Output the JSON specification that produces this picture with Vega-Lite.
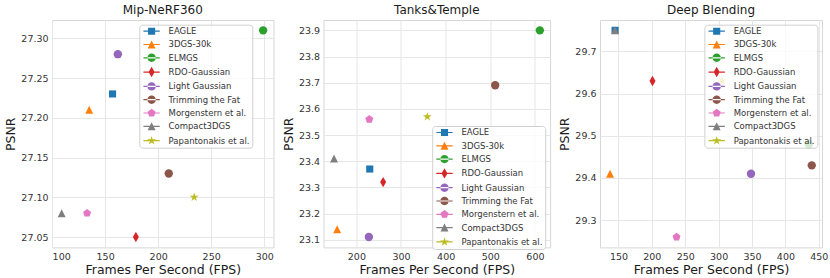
{
  "$schema": "https://vega.github.io/schema/vega-lite/v6.json",
  "padding": {"left": 4, "top": 3, "right": 5, "bottom": 3},
  "background": "white",
  "config": {
    "font": "DejaVu Sans",
    "view": {"stroke": "#d6d6d6", "strokeWidth": 1},
    "point": {"filled": true, "opacity": 1, "size": 70},
    "axis": {
      "labelFont": "DejaVu Sans", "labelFontSize": 9.5, "labelColor": "#333333",
      "titleFont": "DejaVu Sans", "titleFontSize": 12.5, "titleFontWeight": "normal", "titleColor": "#1a1a1a",
      "ticks": false, "domain": false, "gridColor": "#e6e6e6", "gridWidth": 1, "labelPadding": 4, "titlePadding": 3
    },
    "title": {"font": "DejaVu Sans", "fontSize": 12, "fontWeight": "normal", "color": "#1a1a1a", "offset": 3},
    "legend": {
      "labelFont": "DejaVu Sans", "labelFontSize": 8.5, "labelColor": "#333333",
      "fillColor": "rgba(255,255,255,0.8)", "strokeColor": "#d0d0d0", "cornerRadius": 3,
      "padding": 2, "rowPadding": 4.3, "symbolSize": 70, "symbolOffset": 5.8, "labelOffset": 12.5, "symbolStrokeWidth": 0, "symbolOpacity": 1, "title": null
    }
  },
  "data": {"values": [
    {"panel": "Mip-NeRF360", "method": "EAGLE", "fps": 157, "psnr": 27.23},
    {"panel": "Mip-NeRF360", "method": "3DGS-30k", "fps": 135, "psnr": 27.21},
    {"panel": "Mip-NeRF360", "method": "ELMGS", "fps": 299, "psnr": 27.31},
    {"panel": "Mip-NeRF360", "method": "RDO-Gaussian", "fps": 179, "psnr": 27.05},
    {"panel": "Mip-NeRF360", "method": "Light Gaussian", "fps": 162, "psnr": 27.28},
    {"panel": "Mip-NeRF360", "method": "Trimming the Fat", "fps": 210, "psnr": 27.13},
    {"panel": "Mip-NeRF360", "method": "Morgenstern et al.", "fps": 133, "psnr": 27.08},
    {"panel": "Mip-NeRF360", "method": "Compact3DGS", "fps": 109, "psnr": 27.08},
    {"panel": "Mip-NeRF360", "method": "Papantonakis et al.", "fps": 234, "psnr": 27.10},
    {"panel": "Tanks&Temple", "method": "EAGLE", "fps": 230, "psnr": 23.37},
    {"panel": "Tanks&Temple", "method": "3DGS-30k", "fps": 157, "psnr": 23.14},
    {"panel": "Tanks&Temple", "method": "ELMGS", "fps": 611, "psnr": 23.90},
    {"panel": "Tanks&Temple", "method": "RDO-Gaussian", "fps": 260, "psnr": 23.32},
    {"panel": "Tanks&Temple", "method": "Light Gaussian", "fps": 228, "psnr": 23.11},
    {"panel": "Tanks&Temple", "method": "Trimming the Fat", "fps": 511, "psnr": 23.69},
    {"panel": "Tanks&Temple", "method": "Morgenstern et al.", "fps": 229, "psnr": 23.56},
    {"panel": "Tanks&Temple", "method": "Compact3DGS", "fps": 150, "psnr": 23.41},
    {"panel": "Tanks&Temple", "method": "Papantonakis et al.", "fps": 359, "psnr": 23.57},
    {"panel": "Deep Blending", "method": "EAGLE", "fps": 145, "psnr": 29.75},
    {"panel": "Deep Blending", "method": "3DGS-30k", "fps": 137.5, "psnr": 29.41},
    {"panel": "Deep Blending", "method": "ELMGS", "fps": 435, "psnr": 29.48},
    {"panel": "Deep Blending", "method": "RDO-Gaussian", "fps": 201, "psnr": 29.63},
    {"panel": "Deep Blending", "method": "Light Gaussian", "fps": 348.5, "psnr": 29.41},
    {"panel": "Deep Blending", "method": "Trimming the Fat", "fps": 439.5, "psnr": 29.43},
    {"panel": "Deep Blending", "method": "Morgenstern et al.", "fps": 237, "psnr": 29.26},
    {"panel": "Deep Blending", "method": "Compact3DGS", "fps": 145, "psnr": 29.75},
    {"panel": "Deep Blending", "method": "Papantonakis et al.", "fps": 305, "psnr": 29.63}
  ]},
  "bounds": "flush",
  "spacing": 49.5,
  "resolve": {"legend": {"color": "independent", "shape": "independent"}, "scale": {"x": "independent", "y": "independent"}},
  "hconcat": [
    {
      "title": "Mip-NeRF360",
      "width": 221.5, "height": 227.4,
      "transform": [{"filter": "datum.panel === 'Mip-NeRF360'"}],
      "encoding": {
        "x": {"field": "fps", "type": "quantitative", "title": "Frames Per Second (FPS)", "scale": {"domain": [99.9, 308.8], "nice": false, "zero": false}, "axis": {"values": [100, 150, 200, 250, 300]}},
        "y": {"field": "psnr", "type": "quantitative", "title": "PSNR", "scale": {"domain": [27.037, 27.323], "nice": false, "zero": false}, "axis": {"values": [27.05, 27.10, 27.15, 27.20, 27.25, 27.30], "format": ".2f"}},
        "color": {"field": "method", "type": "nominal", "scale": {"domain": ["EAGLE", "3DGS-30k", "ELMGS", "RDO-Gaussian", "Light Gaussian", "Trimming the Fat", "Morgenstern et al.", "Compact3DGS", "Papantonakis et al."], "range": ["#1f77b4", "#ff7f0e", "#2ca02c", "#d62728", "#9467bd", "#8c564b", "#e377c2", "#7f7f7f", "#bcbd22"]}, "legend": {"orient": "none", "legendX": 87.3, "legendY": 4.7}}
      },
      "layer": [
        {"transform": [{"filter": "false"}], "mark": {"type": "point"},
         "encoding": {"shape": {"field": "method", "type": "nominal", "legend": {"orient": "none", "legendX": 87.3, "legendY": 4.7}, "scale": {"domain": ["EAGLE", "3DGS-30k", "ELMGS", "RDO-Gaussian", "Light Gaussian", "Trimming the Fat", "Morgenstern et al.", "Compact3DGS", "Papantonakis et al."], "range": [
           "M-1.95,-0.14L1.95,-0.14L1.95,0.14L-1.95,0.14ZM-0.85,-0.85L0.85,-0.85L0.85,0.85L-0.85,0.85Z",
           "M-1.95,-0.14L1.95,-0.14L1.95,0.14L-1.95,0.14ZM0,-0.95L0.95,0.95L-0.95,0.95Z",
           "M-1.95,-0.14L1.95,-0.14L1.95,0.14L-1.95,0.14ZM-1,0A1,1 0 1,0 1,0A1,1 0 1,0 -1,0Z",
           "M-1.95,-0.14L1.95,-0.14L1.95,0.14L-1.95,0.14ZM0,-1.25L0.72,0L0,1.25L-0.72,0Z",
           "M-1.95,-0.14L1.95,-0.14L1.95,0.14L-1.95,0.14ZM-1,0A1,1 0 1,0 1,0A1,1 0 1,0 -1,0Z",
           "M-1.95,-0.14L1.95,-0.14L1.95,0.14L-1.95,0.14ZM-1,0A1,1 0 1,0 1,0A1,1 0 1,0 -1,0Z",
           "M-1.95,-0.14L1.95,-0.14L1.95,0.14L-1.95,0.14ZM0,-1L0.951,-0.309L0.588,0.809L-0.588,0.809L-0.951,-0.309Z",
           "M-1.95,-0.14L1.95,-0.14L1.95,0.14L-1.95,0.14ZM0,-0.95L0.95,0.95L-0.95,0.95Z",
           "M-1.95,-0.14L1.95,-0.14L1.95,0.14L-1.95,0.14ZM0,-1.12L0.251,-0.346L1.065,-0.346L0.407,0.132L0.659,0.906L0,0.428L-0.659,0.906L-0.407,0.132L-1.065,-0.346L-0.251,-0.346Z"]}}}},
        {"transform": [{"filter": "datum.method === 'EAGLE'"}], "mark": {"type": "point", "shape": "M-0.85,-0.85L0.85,-0.85L0.85,0.85L-0.85,0.85Z"}},
        {"transform": [{"filter": "datum.method === '3DGS-30k' || datum.method === 'Compact3DGS'"}], "mark": {"type": "point", "shape": "M0,-0.95L0.95,0.95L-0.95,0.95Z"}},
        {"transform": [{"filter": "datum.method === 'ELMGS' || datum.method === 'Light Gaussian' || datum.method === 'Trimming the Fat'"}], "mark": {"type": "point", "shape": "circle"}},
        {"transform": [{"filter": "datum.method === 'RDO-Gaussian'"}], "mark": {"type": "point", "shape": "M0,-1.25L0.72,0L0,1.25L-0.72,0Z"}},
        {"transform": [{"filter": "datum.method === 'Morgenstern et al.'"}], "mark": {"type": "point", "shape": "M0,-1L0.951,-0.309L0.588,0.809L-0.588,0.809L-0.951,-0.309Z"}},
        {"transform": [{"filter": "datum.method === 'Papantonakis et al.'"}], "mark": {"type": "point", "shape": "M0,-1.12L0.251,-0.346L1.065,-0.346L0.407,0.132L0.659,0.906L0,0.428L-0.659,0.906L-0.407,0.132L-1.065,-0.346L-0.251,-0.346Z"}}
      ]
    },
    {
      "title": "Tanks&Temple",
      "width": 226.6, "height": 227.4,
      "transform": [{"filter": "datum.panel === 'Tanks&Temple'"}],
      "encoding": {
        "x": {"field": "fps", "type": "quantitative", "title": "Frames Per Second (FPS)", "scale": {"domain": [126.4, 634], "nice": false, "zero": false}, "axis": {"values": [200, 300, 400, 500, 600]}},
        "y": {"field": "psnr", "type": "quantitative", "title": "PSNR", "scale": {"domain": [23.0705, 23.9395], "nice": false, "zero": false}, "axis": {"values": [23.1, 23.2, 23.3, 23.4, 23.5, 23.6, 23.7, 23.8, 23.9], "format": ".1f"}},
        "color": {"field": "method", "type": "nominal", "scale": {"domain": ["EAGLE", "3DGS-30k", "ELMGS", "RDO-Gaussian", "Light Gaussian", "Trimming the Fat", "Morgenstern et al.", "Compact3DGS", "Papantonakis et al."], "range": ["#1f77b4", "#ff7f0e", "#2ca02c", "#d62728", "#9467bd", "#8c564b", "#e377c2", "#7f7f7f", "#bcbd22"]}, "legend": {"orient": "none", "legendX": 108.7, "legendY": 106}}
      },
      "layer": [
        {"transform": [{"filter": "false"}], "mark": {"type": "point"},
         "encoding": {"shape": {"field": "method", "type": "nominal", "legend": {"orient": "none", "legendX": 108.7, "legendY": 106}, "scale": {"domain": ["EAGLE", "3DGS-30k", "ELMGS", "RDO-Gaussian", "Light Gaussian", "Trimming the Fat", "Morgenstern et al.", "Compact3DGS", "Papantonakis et al."], "range": [
           "M-1.95,-0.14L1.95,-0.14L1.95,0.14L-1.95,0.14ZM-0.85,-0.85L0.85,-0.85L0.85,0.85L-0.85,0.85Z",
           "M-1.95,-0.14L1.95,-0.14L1.95,0.14L-1.95,0.14ZM0,-0.95L0.95,0.95L-0.95,0.95Z",
           "M-1.95,-0.14L1.95,-0.14L1.95,0.14L-1.95,0.14ZM-1,0A1,1 0 1,0 1,0A1,1 0 1,0 -1,0Z",
           "M-1.95,-0.14L1.95,-0.14L1.95,0.14L-1.95,0.14ZM0,-1.25L0.72,0L0,1.25L-0.72,0Z",
           "M-1.95,-0.14L1.95,-0.14L1.95,0.14L-1.95,0.14ZM-1,0A1,1 0 1,0 1,0A1,1 0 1,0 -1,0Z",
           "M-1.95,-0.14L1.95,-0.14L1.95,0.14L-1.95,0.14ZM-1,0A1,1 0 1,0 1,0A1,1 0 1,0 -1,0Z",
           "M-1.95,-0.14L1.95,-0.14L1.95,0.14L-1.95,0.14ZM0,-1L0.951,-0.309L0.588,0.809L-0.588,0.809L-0.951,-0.309Z",
           "M-1.95,-0.14L1.95,-0.14L1.95,0.14L-1.95,0.14ZM0,-0.95L0.95,0.95L-0.95,0.95Z",
           "M-1.95,-0.14L1.95,-0.14L1.95,0.14L-1.95,0.14ZM0,-1.12L0.251,-0.346L1.065,-0.346L0.407,0.132L0.659,0.906L0,0.428L-0.659,0.906L-0.407,0.132L-1.065,-0.346L-0.251,-0.346Z"]}}}},
        {"transform": [{"filter": "datum.method === 'EAGLE'"}], "mark": {"type": "point", "shape": "M-0.85,-0.85L0.85,-0.85L0.85,0.85L-0.85,0.85Z"}},
        {"transform": [{"filter": "datum.method === '3DGS-30k' || datum.method === 'Compact3DGS'"}], "mark": {"type": "point", "shape": "M0,-0.95L0.95,0.95L-0.95,0.95Z"}},
        {"transform": [{"filter": "datum.method === 'ELMGS' || datum.method === 'Light Gaussian' || datum.method === 'Trimming the Fat'"}], "mark": {"type": "point", "shape": "circle"}},
        {"transform": [{"filter": "datum.method === 'RDO-Gaussian'"}], "mark": {"type": "point", "shape": "M0,-1.25L0.72,0L0,1.25L-0.72,0Z"}},
        {"transform": [{"filter": "datum.method === 'Morgenstern et al.'"}], "mark": {"type": "point", "shape": "M0,-1L0.951,-0.309L0.588,0.809L-0.588,0.809L-0.951,-0.309Z"}},
        {"transform": [{"filter": "datum.method === 'Papantonakis et al.'"}], "mark": {"type": "point", "shape": "M0,-1.12L0.251,-0.346L1.065,-0.346L0.407,0.132L0.659,0.906L0,0.428L-0.659,0.906L-0.407,0.132L-1.065,-0.346L-0.251,-0.346Z"}}
      ]
    },
    {
      "title": "Deep Blending",
      "width": 222, "height": 227.4,
      "transform": [{"filter": "datum.panel === 'Deep Blending'"}],
      "encoding": {
        "x": {"field": "fps", "type": "quantitative", "title": "Frames Per Second (FPS)", "scale": {"domain": [122.4, 454.8], "nice": false, "zero": false}, "axis": {"values": [150, 200, 250, 300, 350, 400, 450]}},
        "y": {"field": "psnr", "type": "quantitative", "title": "PSNR", "scale": {"domain": [29.2355, 29.7745], "nice": false, "zero": false}, "axis": {"values": [29.3, 29.4, 29.5, 29.6, 29.7], "format": ".1f"}},
        "color": {"field": "method", "type": "nominal", "scale": {"domain": ["EAGLE", "3DGS-30k", "ELMGS", "RDO-Gaussian", "Light Gaussian", "Trimming the Fat", "Morgenstern et al.", "Compact3DGS", "Papantonakis et al."], "range": ["#1f77b4", "#ff7f0e", "#2ca02c", "#d62728", "#9467bd", "#8c564b", "#e377c2", "#7f7f7f", "#bcbd22"]}, "legend": {"orient": "none", "legendX": 104.4, "legendY": 4.7}}
      },
      "layer": [
        {"transform": [{"filter": "false"}], "mark": {"type": "point"},
         "encoding": {"shape": {"field": "method", "type": "nominal", "legend": {"orient": "none", "legendX": 104.4, "legendY": 4.7}, "scale": {"domain": ["EAGLE", "3DGS-30k", "ELMGS", "RDO-Gaussian", "Light Gaussian", "Trimming the Fat", "Morgenstern et al.", "Compact3DGS", "Papantonakis et al."], "range": [
           "M-1.95,-0.14L1.95,-0.14L1.95,0.14L-1.95,0.14ZM-0.85,-0.85L0.85,-0.85L0.85,0.85L-0.85,0.85Z",
           "M-1.95,-0.14L1.95,-0.14L1.95,0.14L-1.95,0.14ZM0,-0.95L0.95,0.95L-0.95,0.95Z",
           "M-1.95,-0.14L1.95,-0.14L1.95,0.14L-1.95,0.14ZM-1,0A1,1 0 1,0 1,0A1,1 0 1,0 -1,0Z",
           "M-1.95,-0.14L1.95,-0.14L1.95,0.14L-1.95,0.14ZM0,-1.25L0.72,0L0,1.25L-0.72,0Z",
           "M-1.95,-0.14L1.95,-0.14L1.95,0.14L-1.95,0.14ZM-1,0A1,1 0 1,0 1,0A1,1 0 1,0 -1,0Z",
           "M-1.95,-0.14L1.95,-0.14L1.95,0.14L-1.95,0.14ZM-1,0A1,1 0 1,0 1,0A1,1 0 1,0 -1,0Z",
           "M-1.95,-0.14L1.95,-0.14L1.95,0.14L-1.95,0.14ZM0,-1L0.951,-0.309L0.588,0.809L-0.588,0.809L-0.951,-0.309Z",
           "M-1.95,-0.14L1.95,-0.14L1.95,0.14L-1.95,0.14ZM0,-0.95L0.95,0.95L-0.95,0.95Z",
           "M-1.95,-0.14L1.95,-0.14L1.95,0.14L-1.95,0.14ZM0,-1.12L0.251,-0.346L1.065,-0.346L0.407,0.132L0.659,0.906L0,0.428L-0.659,0.906L-0.407,0.132L-1.065,-0.346L-0.251,-0.346Z"]}}}},
        {"transform": [{"filter": "datum.method === 'EAGLE'"}], "mark": {"type": "point", "shape": "M-0.85,-0.85L0.85,-0.85L0.85,0.85L-0.85,0.85Z"}},
        {"transform": [{"filter": "datum.method === '3DGS-30k' || datum.method === 'Compact3DGS'"}], "mark": {"type": "point", "shape": "M0,-0.95L0.95,0.95L-0.95,0.95Z"}},
        {"transform": [{"filter": "datum.method === 'ELMGS' || datum.method === 'Light Gaussian' || datum.method === 'Trimming the Fat'"}], "mark": {"type": "point", "shape": "circle"}},
        {"transform": [{"filter": "datum.method === 'RDO-Gaussian'"}], "mark": {"type": "point", "shape": "M0,-1.25L0.72,0L0,1.25L-0.72,0Z"}},
        {"transform": [{"filter": "datum.method === 'Morgenstern et al.'"}], "mark": {"type": "point", "shape": "M0,-1L0.951,-0.309L0.588,0.809L-0.588,0.809L-0.951,-0.309Z"}},
        {"transform": [{"filter": "datum.method === 'Papantonakis et al.'"}], "mark": {"type": "point", "shape": "M0,-1.12L0.251,-0.346L1.065,-0.346L0.407,0.132L0.659,0.906L0,0.428L-0.659,0.906L-0.407,0.132L-1.065,-0.346L-0.251,-0.346Z"}}
      ]
    }
  ]
}
